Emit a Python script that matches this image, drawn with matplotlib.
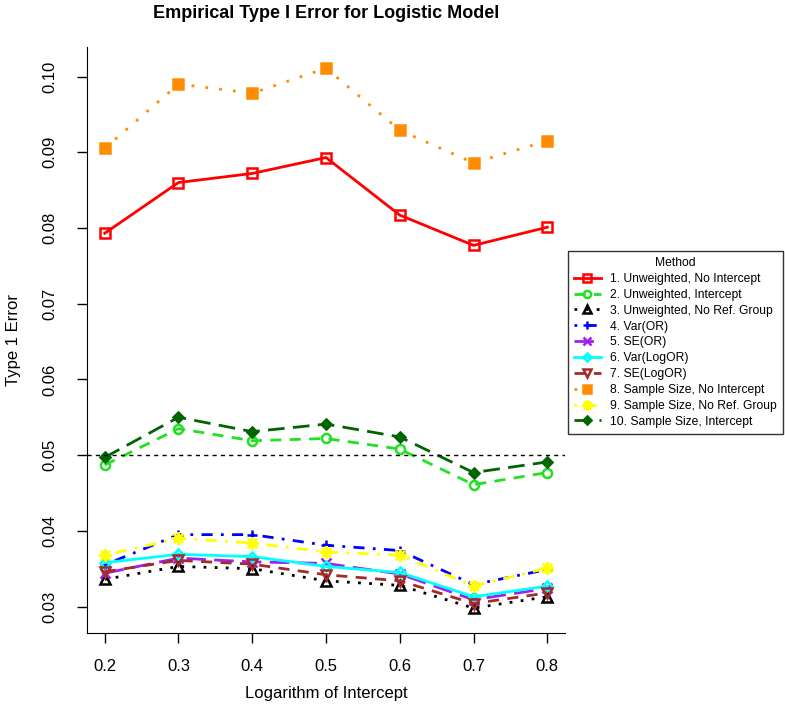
import matplotlib
matplotlib.use("Agg")
import matplotlib.pyplot as plt

plt.rcParams['font.family'] = ['Liberation Sans', 'DejaVu Sans']

intercepts = [0.2, 0.3, 0.4, 0.5, 0.6, 0.7, 0.8]

unweighted_no_int = [0.0793, 0.0860, 0.0872, 0.0893, 0.0817, 0.0777, 0.0801]
unweighted_int = [0.0487, 0.0535, 0.0519, 0.0522, 0.0508, 0.0461, 0.0477]
unweighted_no_ref = [0.0336, 0.0353, 0.0350, 0.0334, 0.0328, 0.0298, 0.0313]
var_or = [0.0355, 0.0395, 0.0395, 0.0381, 0.0374, 0.0329, 0.0349]
se_or = [0.0344, 0.0364, 0.0359, 0.0357, 0.0343, 0.0309, 0.0324]
var_logor = [0.0358, 0.0369, 0.0366, 0.0353, 0.0345, 0.0313, 0.0327]
se_logor = [0.0346, 0.0361, 0.0356, 0.0342, 0.0334, 0.0304, 0.0318]
ss_no_int = [0.0905, 0.0990, 0.0978, 0.1011, 0.0929, 0.0886, 0.0915]
ss_no_ref = [0.0368, 0.0390, 0.0384, 0.0372, 0.0368, 0.0327, 0.0351]
ss_int = [0.0497, 0.0550, 0.0531, 0.0541, 0.0524, 0.0477, 0.0491]

labels = ["1. Unweighted, No Intercept", "2. Unweighted, Intercept",
          "3. Unweighted, No Ref. Group", "4. Var(OR)", "5. SE(OR)",
          "6. Var(LogOR)", "7. SE(LogOR)", "8. Sample Size, No Intercept",
          "9. Sample Size, No Ref. Group", "10. Sample Size, Intercept"]

series = [unweighted_no_int, unweighted_int, unweighted_no_ref, var_or, se_or,
          var_logor, se_logor, ss_no_int, ss_no_ref, ss_int]

# colour, dash pattern, marker, filled
styles = [
    ("#FF0000", "-", "s", False),
    ("#22E022", (0, (4, 3)), "o", False),
    ("#000000", (0, (1, 3)), "^", False),
    ("#0000FF", (0, (1, 3, 4, 3)), "+", False),
    ("#A020F0", (0, (7, 3)), "x", False),
    ("#00FFFF", "-", "D", False),
    ("#A52A2A", (0, (4, 3)), "v", False),
    ("#FF8C00", (0, (1, 4)), "s", True),
    ("#FFFF00", (0, (1, 3, 4, 3)), (8, 2, 0), False),
    ("#006400", (0, (6, 3)), "D", True),
]

fig = plt.figure(figsize=(7.85, 7.24), dpi=100)
ax = fig.add_axes([87/785, 1-633/724, 478/785, 586/724])

handles = []
for vals, lab, (col, ls, mk, filled) in zip(series, labels, styles):
    mfc = col if filled else "none"
    ms = 6.5
    if mk == "D":
        ms = 5.5
    if mk == (8, 2, 0):
        ms = 9
    h, = ax.plot(intercepts, vals, color=col, linestyle=ls, linewidth=2,
                 marker=mk, markersize=ms, markeredgewidth=1.8,
                 markerfacecolor=mfc, markeredgecolor=col, label=lab)
    handles.append(h)

ax.axhline(0.05, color="black", linestyle=(0, (3, 3)), linewidth=1)

ax.set_xlim(0.176, 0.824)
ax.set_ylim(0.02651, 0.1039)
ax.set_xticks(intercepts)
ax.set_xticklabels(["0.2", "0.3", "0.4", "0.5", "0.6", "0.7", "0.8"])
ax.set_yticks([0.03, 0.04, 0.05, 0.06, 0.07, 0.08, 0.09, 0.10])
ax.set_yticklabels(["0.03", "0.04", "0.05", "0.06", "0.07", "0.08", "0.09", "0.10"],
                   rotation=90, va="center")
ax.tick_params(axis="both", direction="out", length=7, width=1, labelsize=12)
ax.tick_params(axis="x", pad=12)
ax.tick_params(axis="y", pad=14)
ax.spines["top"].set_visible(False)
ax.spines["right"].set_visible(False)

ax.set_xlabel("Logarithm of Intercept", fontsize=12)
ax.set_ylabel("Type 1 Error", fontsize=12, va="center")
ax.xaxis.set_label_coords(0.5, -(686-633)/586)
ax.yaxis.set_label_coords(-(87-14)/478, 0.5)

fig.text(326/785, 1-13/724, "Empirical Type I Error for Logistic Model",
         ha="center", va="center", fontsize=13, fontweight="bold")

leg = fig.legend(handles=handles, labels=labels, title="Method",
                 loc="upper left", bbox_to_anchor=(568/785, 1-251/724),
                 fontsize=8.7, title_fontsize=8.7, frameon=True, fancybox=False,
                 edgecolor="black", handlelength=2.2, handletextpad=0.8,
                 labelspacing=0.32, borderpad=0.5, borderaxespad=0,
                 markerscale=0.8)
leg.get_frame().set_linewidth(1)

plt.savefig("out.png", dpi=100)
